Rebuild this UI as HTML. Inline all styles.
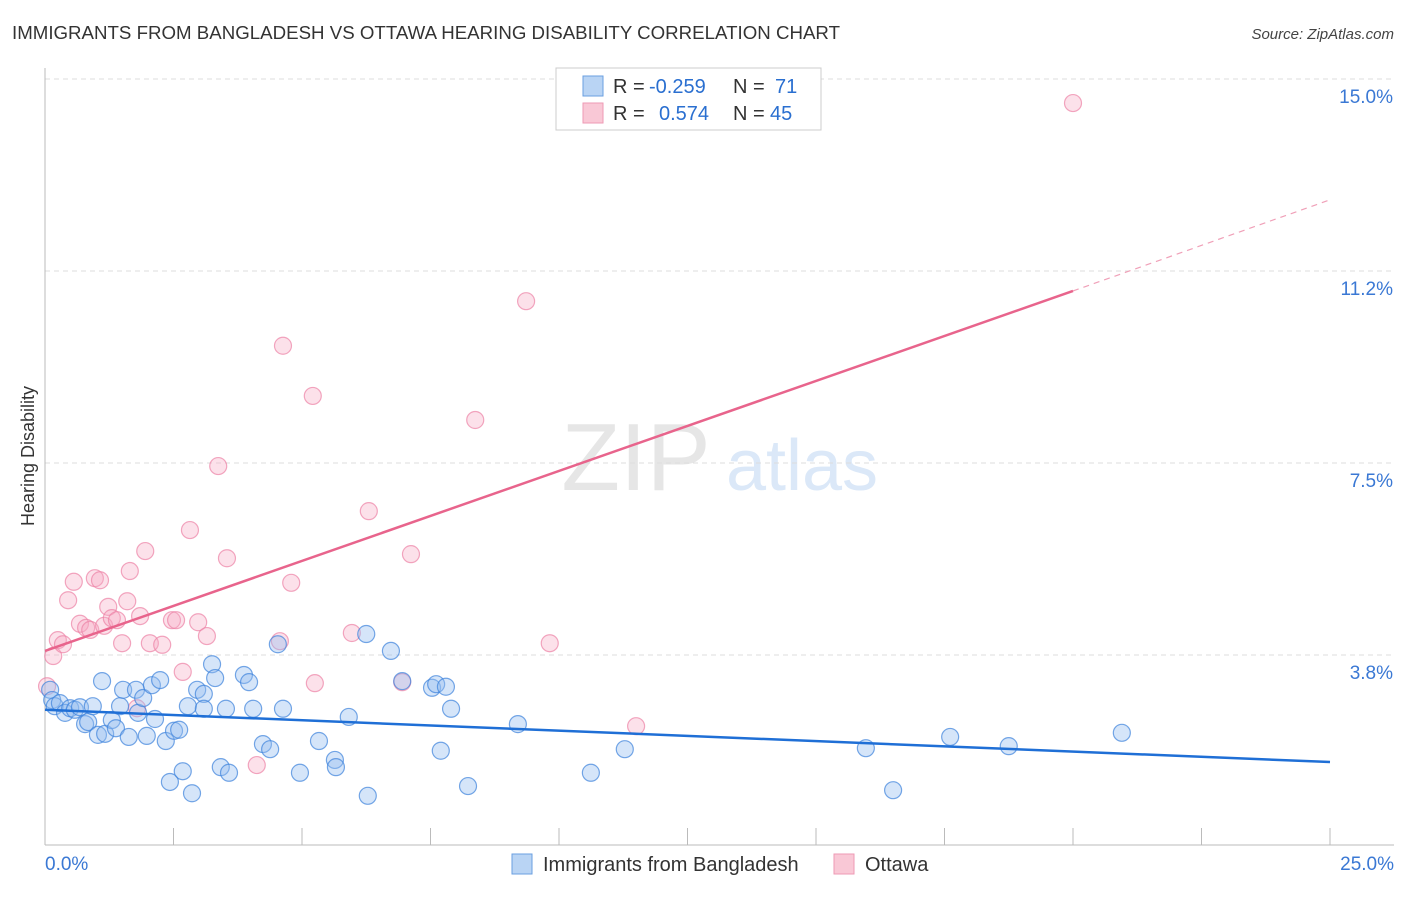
<!DOCTYPE html>
<html><head><meta charset="utf-8"><style>
body{margin:0;background:#fff;font-family:"Liberation Sans",sans-serif;}
svg text{font-family:"Liberation Sans",sans-serif;}
</style></head><body>
<svg width="1406" height="892" viewBox="0 0 1406 892" xmlns="http://www.w3.org/2000/svg">
<text x="12" y="39" font-size="18" fill="#333" textLength="828" lengthAdjust="spacingAndGlyphs">IMMIGRANTS FROM BANGLADESH VS OTTAWA HEARING DISABILITY CORRELATION CHART</text>
<text x="1394" y="39" font-size="15" fill="#444" font-style="italic" text-anchor="end">Source: ZipAtlas.com</text>
<text x="34" y="456" font-size="18" fill="#333" text-anchor="middle" transform="rotate(-90 34 456)">Hearing Disability</text>
<g><text x="636" y="490" font-size="96" fill="#e6e6e6" text-anchor="middle" font-family="Liberation Serif">ZIP</text><text x="802" y="490" font-size="72" fill="#dbe8f8" text-anchor="middle">atlas</text></g>
<g id="grid"></g>
<g id="axes"></g>
<g id="pts"></g>
<g id="trend"></g>
<g>
<rect x="556" y="68" width="265" height="62" fill="#fff" stroke="#ccc"/>
<rect x="583" y="76" width="20" height="20" fill="#b9d4f4" stroke="#6a9fe0"/>
<rect x="583" y="103" width="20" height="20" fill="#f9c8d6" stroke="#ee9ab4"/>
<g font-size="20" fill="#333">
<text x="613" y="93">R =</text><text x="649" y="93" fill="#2a6fd0">-0.259</text><text x="733" y="93">N =</text><text x="775" y="93" fill="#2a6fd0">71</text>
<text x="613" y="120">R =</text><text x="659" y="120" fill="#2a6fd0">0.574</text><text x="733" y="120">N =</text><text x="770" y="120" fill="#2a6fd0">45</text>
</g>
</g>
<g>
<rect x="512" y="854" width="20" height="20" fill="#b9d4f4" stroke="#6a9fe0"/>
<text x="543" y="871" font-size="20" fill="#333">Immigrants from Bangladesh</text>
<rect x="834" y="854" width="20" height="20" fill="#f9c8d6" stroke="#ee9ab4"/>
<text x="865" y="871" font-size="20" fill="#333">Ottawa</text>
</g>
</svg>
<script>
const blueX=[0.10,0.14,0.19,0.29,0.39,0.49,0.58,0.68,0.78,0.84,0.93,1.03,1.11,1.17,1.30,1.38,1.46,1.52,1.63,1.77,1.81,1.91,1.98,2.08,2.14,2.24,2.35,2.43,2.51,2.61,2.68,2.78,2.86,2.96,3.09,3.09,3.25,3.31,3.42,3.52,3.58,3.87,3.97,4.05,4.24,4.38,4.53,4.63,4.96,5.33,5.64,5.66,5.91,6.25,6.28,6.73,6.95,7.53,7.61,7.70,7.80,7.90,8.23,9.20,10.62,11.28,15.97,16.50,18.75,20.95,17.61];
const blueY=[3.07,2.87,2.75,2.81,2.62,2.71,2.68,2.73,2.40,2.44,2.75,2.19,3.24,2.21,2.48,2.32,2.75,3.07,2.15,3.07,2.62,2.91,2.17,3.16,2.50,3.26,2.07,1.27,2.27,2.29,1.48,2.75,1.05,3.07,2.99,2.70,3.57,3.30,1.56,2.70,1.45,3.36,3.22,2.70,2.01,1.91,3.96,2.70,1.45,2.07,1.70,1.56,2.54,4.16,1.00,3.83,3.24,3.11,3.18,1.88,3.13,2.70,1.19,2.40,1.45,1.91,1.93,1.11,1.97,2.23,2.15];
const pinkX=[0.04,0.16,0.25,0.35,0.45,0.56,0.68,0.80,0.88,0.97,1.07,1.15,1.23,1.30,1.40,1.50,1.60,1.65,1.79,1.85,1.95,2.04,2.28,2.47,2.55,2.68,2.82,2.98,3.15,3.37,3.54,4.57,4.63,4.79,5.21,5.25,5.97,6.30,6.95,7.12,8.37,9.36,9.82,11.50,20.00,4.12];
const pinkY=[3.14,3.73,4.04,3.96,4.82,5.18,4.36,4.28,4.24,5.25,5.21,4.32,4.69,4.47,4.43,3.98,4.80,5.39,2.71,4.51,5.78,3.98,3.95,4.43,4.43,3.42,6.19,4.39,4.12,7.44,5.64,4.02,9.79,5.16,8.81,3.20,4.18,6.56,3.22,5.72,8.34,10.66,3.98,2.36,14.53,1.60];
const yTicks=[3.75,7.5,11.25,15];
const yTickLabels=["3.8%","7.5%","11.2%","15.0%"];
const blueTrend=[2.68,1.66];
const pinkTrend=[3.83,10.86,12.64];
const NS="http://www.w3.org/2000/svg";
const sx=v=>45+v*51.4, sy=v=>847-v*51.2;
function mk(t,a,p){const e=document.createElementNS(NS,t);for(const k in a)e.setAttribute(k,a[k]);document.getElementById(p).appendChild(e);return e;}
yTicks.forEach((t,i)=>{
 const l=mk('line',{x1:45,x2:1394,y1:sy(t),y2:sy(t),stroke:'#ddd','stroke-dasharray':'5,4'},'grid');
 
 
 const tx=mk('text',{x:1393,y:sy(t)+24,'font-size':19,fill:'#3a78d4','text-anchor':'end'},'grid');
 tx.textContent=yTickLabels[i];
 
 
});
const ax=mk('line',{x1:45,x2:1394,y1:845,y2:845,stroke:'#bbb'},'axes');


const ay=mk('line',{x1:45,x2:45,y1:68,y2:845,stroke:'#bbb'},'axes');


for(let i=0;i<=10;i++){const t=mk('line',{x1:sx(i*2.5),x2:sx(i*2.5),y1:828,y2:845,stroke:'#bbb'},'axes');
 
 }
const x0=mk('text',{x:45,y:870,'font-size':19,fill:'#3a78d4'},'axes');x0.textContent='0.0%';


const x1=mk('text',{x:1394,y:870,'font-size':19,fill:'#3a78d4','text-anchor':'end'},'axes');x1.textContent='25.0%';


pinkX.forEach((x,i)=>{const c=mk('circle',{cx:sx(x),cy:sy(pinkY[i]),r:8.5,fill:'rgba(246,170,195,0.35)',stroke:'rgba(236,130,165,0.7)','stroke-width':1.2},'pts');
 
 });
blueX.forEach((x,i)=>{const c=mk('circle',{cx:sx(x),cy:sy(blueY[i]),r:8.5,fill:'rgba(150,190,240,0.4)',stroke:'rgba(60,130,220,0.7)','stroke-width':1.2},'pts');
 
 });
const bt=mk('line',{x1:sx(0),y1:sy(blueTrend[0]),x2:sx(25),y2:sy(blueTrend[1]),stroke:'#1f6fd6','stroke-width':2.5},'trend');


const pt=mk('line',{x1:sx(0),y1:sy(pinkTrend[0]),x2:sx(20),y2:sy(pinkTrend[1]),stroke:'#e8648c','stroke-width':2.5},'trend');


const pd=mk('line',{x1:sx(20),y1:sy(pinkTrend[1]),x2:sx(25),y2:sy(pinkTrend[2]),stroke:'#f0a0b8','stroke-width':1.2,'stroke-dasharray':'6,5'},'trend');


</script>
</body></html>
